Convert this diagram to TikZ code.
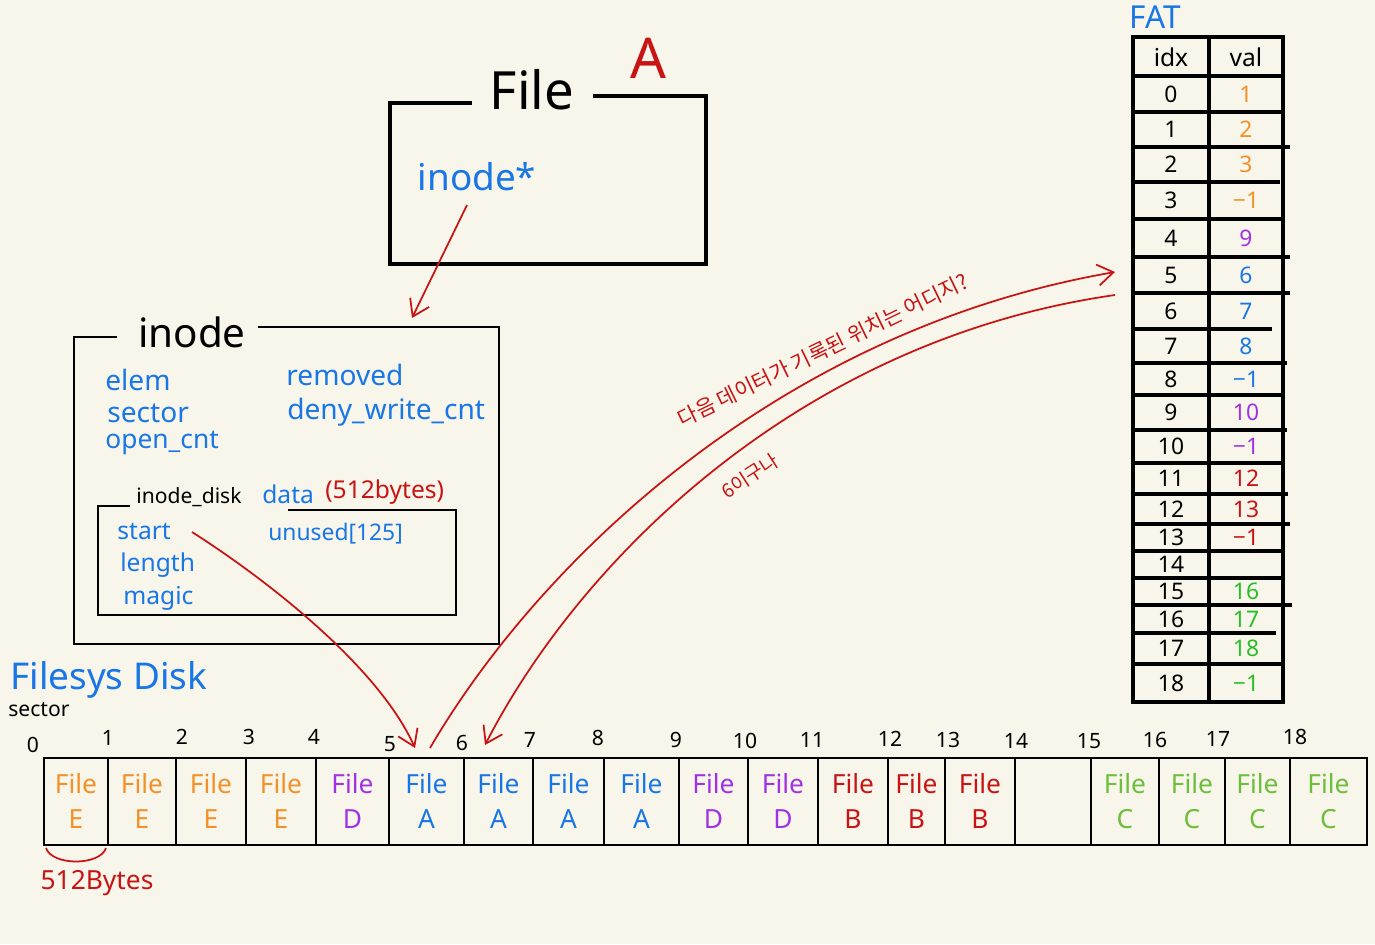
\documentclass[tikz,border=0pt]{standalone}
\usepackage{fontspec}
\setmainfont{Noto Sans}
\newfontfamily\kr{Noto Sans CJK KR}
\usetikzlibrary{arrows.meta,calc}
\definecolor{bg}{RGB}{248,246,235}
\definecolor{hblue}{RGB}{25,118,230}
\definecolor{horange}{RGB}{243,145,40}
\definecolor{hpurple}{RGB}{160,50,230}
\definecolor{hred}{RGB}{200,20,20}
\definecolor{hgreen}{RGB}{110,190,60}
\definecolor{fgreen}{RGB}{40,190,40}
\tikzset{
  frame/.style={line width=1.3pt, black},
  heavyframe/.style={line width=1.8pt, black},
  rarrow/.style={hred, line width=1pt, -{Straight Barb[length=9pt,width=12pt]}},
  cell/.style={align=center, font=\fontsize{15}{20}\selectfont, inner sep=0pt},
  secnum/.style={font=\fontsize{12}{14}\selectfont, inner sep=0pt},
  fatnum/.style={font=\fontsize{13}{15}\selectfont, inner sep=0pt},
  field/.style={hblue, font=\fontsize{16}{19}\selectfont, inner sep=0pt, anchor=west},
  dfield/.style={hblue, font=\fontsize{14}{17}\selectfont, inner sep=0pt, anchor=west},
}
\begin{document}
\begin{tikzpicture}[x=0.02cm,y=-0.02cm]
\fill[bg] (0,0) rectangle (1375,944);
\useasboundingbox (0,0) rectangle (1375,944);

% ---------- File box ----------
\node[font=\fontsize{30}{34}\selectfont, inner sep=0pt] (ftitle) at (532,90) {File};
\node[hred, font=\fontsize{32}{36}\selectfont, inner sep=0pt] (fa) at (648,58) {A};
\draw[heavyframe] (472,103) -- (390,103) -- (390,264) -- (706,264) -- (706,96) -- (593,96);
\node[hblue, font=\fontsize{21}{24}\selectfont, inner sep=0pt] (iptr) at (477,177) {inode*};
\coordinate (a1) at (467,205);
\coordinate (a2) at (412,318);
\draw[rarrow] (a1) -- (a2);

% ---------- inode box ----------
\node[font=\fontsize{23}{26}\selectfont, inner sep=0pt] (ititle) at (192,332) {inode};
\draw[frame] (117,337) -- (74,337) -- (74,644) -- (499,644) -- (499,327) -- (258,327);
\node[field] (elem) at (105,380) {elem};
\node[field] (sector) at (107,413) {sector};
\node[dfield, font=\fontsize{15}{18}\selectfont] (opencnt) at (105,443) {open\_cnt};
\node[field] (removed) at (286,375) {removed};
\node[field] (deny) at (287,412) {deny\_write\_cnt};

% inode_disk
\node[font=\fontsize{12}{14}\selectfont, inner sep=0pt, anchor=west] (idtitle) at (136,497) {inode\_disk};
\node[dfield] (data) at (262,494) {data};
\node[hred, font=\fontsize{14}{17}\selectfont, inner sep=0pt, anchor=west] (dbytes) at (325,492) {(512bytes)};
\draw[frame] (130,506) -- (98,506) -- (98,615) -- (456,615) -- (456,510) -- (288,510);
\node[dfield] (start) at (117,532) {start};
\node[dfield] (length) at (120,565) {length};
\node[dfield] (magic) at (123,598) {magic};
\node[dfield, font=\fontsize{13}{16}\selectfont] (unused) at (268,534) {unused[125]};

% ---------- Filesys disk ----------
\node[hblue, font=\fontsize{21}{24}\selectfont, inner sep=0pt, anchor=west] (fsd) at (10,680) {Filesys Disk};
\node[font=\fontsize{12}{14}\selectfont, inner sep=0pt, anchor=west] (sectorlbl) at (8,710) {sector};

\draw[frame] (44,758) rectangle (1367,845);
\foreach \x in {108,176,246,316,389,464,533,604,679,748,818,888,945,1015,1091,1159,1225,1290}
  \draw[frame] (\x,758) -- (\x,845);

\foreach \i/\xa/\xb/\col/\ltr in {0/44/108/horange/E,1/108/176/horange/E,2/176/246/horange/E,3/246/316/horange/E,
  4/316/389/hpurple/D,5/389/464/hblue/A,6/464/533/hblue/A,7/533/604/hblue/A,8/604/679/hblue/A,
  9/679/748/hpurple/D,10/748/818/hpurple/D,11/818/888/hred/B,12/888/945/hred/B,13/945/1015/hred/B,
  15/1091/1159/hgreen/C,16/1159/1225/hgreen/C,17/1225/1290/hgreen/C,18/1290/1367/hgreen/C}
  \node[cell, text=\col] (c\i) at ({(\xa+\xb)/2},801) {File\\\ltr};
\node[cell] (c14) at (1053,801) {};

\foreach \n/\x/\y in {0/33/745,1/108/738,2/182/737,3/249/737,4/314/737,5/390/744,6/462/743,7/530/740,
  8/598/738,9/676/740,10/745/741,11/812/740,12/890/739,13/948/740,14/1016/741,15/1089/741,
  16/1155/740,17/1218/739,18/1295/737}
  \node[secnum] (n\n) at (\x,\y) {\n};

\draw[hred, line width=1pt] (46,848) .. controls (52,866) and (100,866) .. (106,848);
\node[hred, font=\fontsize{15}{18}\selectfont, inner sep=0pt] (sz) at (97,883) {512Bytes};

% ---------- FAT ----------
\node[hblue, font=\fontsize{18}{21}\selectfont, inner sep=0pt] (fat) at (1155,17) {FAT};
\draw[heavyframe] (1133,37) rectangle (1283,702);
\draw[heavyframe] (1209,37) -- (1209,702);
\foreach \y/\xr in {76/1285,112/1283,147/1290,182/1280,219/1283,257/1290,293/1290,329/1272,363/1287,395/1283,430/1287,463/1283,494/1288,524/1290,551/1283,578/1283,605/1292,633/1276,664/1283}
  \draw[heavyframe] (1133,\y) -- (\xr,\y);
\node[fatnum, font=\fontsize{14}{16}\selectfont] (hidx) at (1171,57) {idx};
\node[fatnum, font=\fontsize{14}{16}\selectfont] (hval) at (1246,57) {val};
\foreach \i/\ya/\yb/\v/\col in {0/76/112/1/horange,1/112/147/2/horange,2/147/182/3/horange,3/182/219/−1/horange,
  4/219/257/9/hpurple,5/257/293/6/hblue,6/293/329/7/hblue,7/329/363/8/hblue,8/363/395/−1/hblue,
  9/395/430/10/hpurple,10/430/463/−1/hpurple,11/463/494/12/hred,12/494/524/13/hred,13/524/551/−1/hred,
  14/551/578//black,15/578/605/16/fgreen,16/605/633/17/fgreen,17/633/664/18/fgreen,18/664/702/−1/fgreen}
{
  \node[fatnum] (fi\i) at (1171,{(\ya+\yb)/2}) {\i};
  \node[fatnum, text=\col] (fv\i) at (1246,{(\ya+\yb)/2}) {\v};
}

% ---------- connectors ----------
\coordinate (s0) at (192,532);
\coordinate (d5) at (415,748);
\draw[rarrow] (s0) .. controls (275,585) and (380,670) .. (d5);

\coordinate (d5b) at (430,748);
\coordinate (r5a) at (1115,272);
\draw[rarrow] (d5b) .. controls (540,560) and (780,330) .. (r5a);

\coordinate (r5b) at (1115,295);
\coordinate (d6) at (485,745);
\draw[rarrow] (r5b) .. controls (800,340) and (580,560) .. (d6);

\node[hred, rotate=26, font=\kr\fontsize{12}{14}\selectfont, inner sep=0pt] (q) at (823,350) {다음 데이터가 기록된 위치는 어디지?};
\node[hred, rotate=33, font=\kr\fontsize{11}{13}\selectfont, inner sep=0pt] (ans) at (750,476) {6이구나};
\end{tikzpicture}
\end{document}
